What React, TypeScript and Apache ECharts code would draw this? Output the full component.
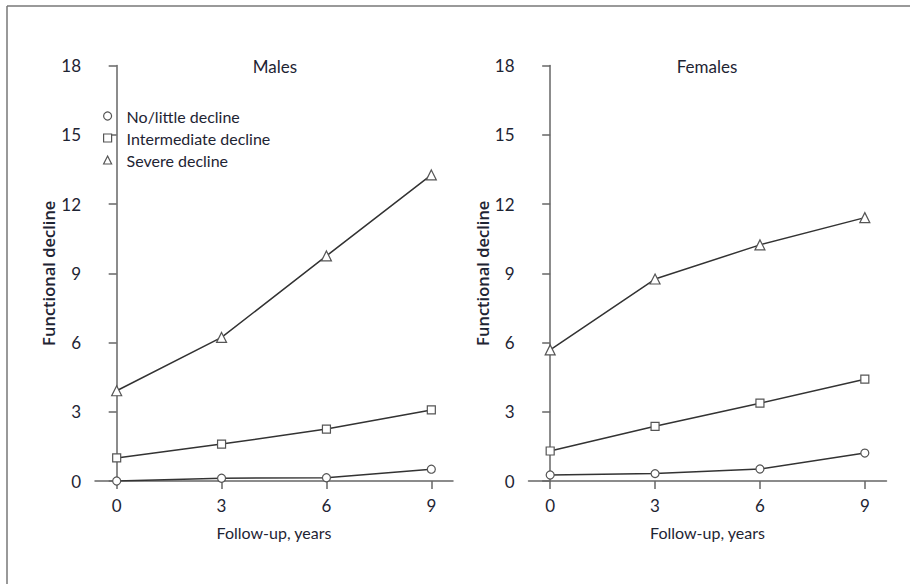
import React, { useEffect, useRef } from "react";
import * as echarts from "echarts";

const followUp = [0, 3, 6, 9];
const xTicks = [0, 3, 6, 9];
const seriesNames = ["No/little decline", "Intermediate decline", "Severe decline"];
const seriesSymbols = ["circle", "rect", "triangle"];
const panelTitles = ["Males", "Females"];

const malesNoLittle = [0.0, 0.12, 0.14, 0.51];
const malesIntermediate = [1.0, 1.6, 2.25, 3.08];
const malesSevere = [3.91, 6.22, 9.75, 13.26];

const femalesNoLittle = [0.26, 0.32, 0.52, 1.21];
const femalesIntermediate = [1.3, 2.37, 3.37, 4.41];
const femalesSevere = [5.68, 8.75, 10.23, 11.41];

const FONT = "Lato, 'Open Sans', sans-serif";
const NAME_FONT = "'Open Sans', Lato, sans-serif";
const TEXT = "#1e2433";
const AXIS = "#666";

export default function App() {
  const ref = useRef<HTMLDivElement>(null);
  useEffect(() => {
    document.body.style.margin = "0";
    if (!ref.current) return;
    const chart = echarts.init(ref.current, undefined, { renderer: "svg" });
    const grids = [
      { left: 95, top: 65.5, width: 358, height: 415.5 },
      { left: 528.5, top: 65.5, width: 358, height: 415.5 },
    ];
    const xAxis = grids.map((_, i) => ({
      type: "value",
      gridIndex: i,
      min: -0.62,
      max: 9.62,
      name: "Follow-up, years",
      nameLocation: "middle",
      nameGap: 43,
      nameTextStyle: { fontFamily: FONT, fontSize: 16, color: TEXT },
      axisLine: { show: true, lineStyle: { color: AXIS, width: 1.5 } },
      axisTick: { show: true, length: 8, customValues: xTicks, lineStyle: { color: AXIS, width: 1.5 } },
      axisLabel: { customValues: xTicks, fontFamily: FONT, fontSize: 17, color: TEXT, margin: 16 },
      splitLine: { show: false },
    }));
    const yAxis = grids.map((_, i) => ({
      type: "value",
      gridIndex: i,
      min: 0,
      max: 18,
      interval: 3,
      name: "Functional decline",
      nameLocation: "middle",
      nameGap: 38,
      nameTextStyle: { fontFamily: NAME_FONT, fontSize: 16.5, color: TEXT, fontWeight: 600 },
      axisLine: { show: true, lineStyle: { color: AXIS, width: 1.5 } },
      axisTick: { show: true, length: 8, lineStyle: { color: AXIS, width: 1.5 } },
      axisLabel: { fontFamily: FONT, fontSize: 17, color: TEXT, margin: 14 },
      splitLine: { show: false },
    }));
    const panels = [
      [malesNoLittle, malesIntermediate, malesSevere],
      [femalesNoLittle, femalesIntermediate, femalesSevere],
    ];
    const series: any[] = [];
    panels.forEach((panel, pi) => {
      panel.forEach((vals, si) => {
        series.push({
          type: "line",
          name: seriesNames[si],
          xAxisIndex: pi,
          yAxisIndex: pi,
          data: followUp.map((x, k) => [x, vals[k]]),
          symbol: seriesSymbols[si],
          symbolSize: si === 2 ? 10 : 8,
          showSymbol: true,
          lineStyle: { color: "#333", width: 1.5 },
          itemStyle: { color: "#fff", borderColor: "#555", borderWidth: 1.2 },
          z: 3,
        });
      });
    });
    chart.setOption({
      animation: false,
      backgroundColor: "#fff",
      grid: grids,
      xAxis,
      yAxis,
      series,
      legend: {
        orient: "vertical",
        left: 98,
        top: 103,
        itemGap: 6,
        itemWidth: 8,
        itemHeight: 8,
        data: seriesNames.map((n, i) => ({ name: n, icon: seriesSymbols[i] })),
        textStyle: { fontFamily: FONT, fontSize: 16, color: TEXT, padding: [0, 0, 0, 10] },
        itemStyle: { color: "#fff", borderColor: "#555", borderWidth: 1.2 },
        selectedMode: false,
      },
      graphic: [
        ...panelTitles.map((t, i) => ({
          type: "text",
          x: i === 0 ? 275 : 707,
          y: 66,
          style: {
            text: t,
            font: `17px ${FONT}`,
            fill: TEXT,
            textAlign: "center",
            textVerticalAlign: "middle",
          },
        })),
        { type: "line", shape: { x1: 7, y1: 6, x2: 910, y2: 6 }, style: { stroke: "#777", lineWidth: 1.5 } },
        { type: "line", shape: { x1: 7, y1: 6, x2: 7, y2: 584 }, style: { stroke: "#777", lineWidth: 1.5 } },
      ],
    });
    return () => chart.dispose();
  }, []);
  return <div ref={ref} style={{ width: 910, height: 584 }} />;
}
